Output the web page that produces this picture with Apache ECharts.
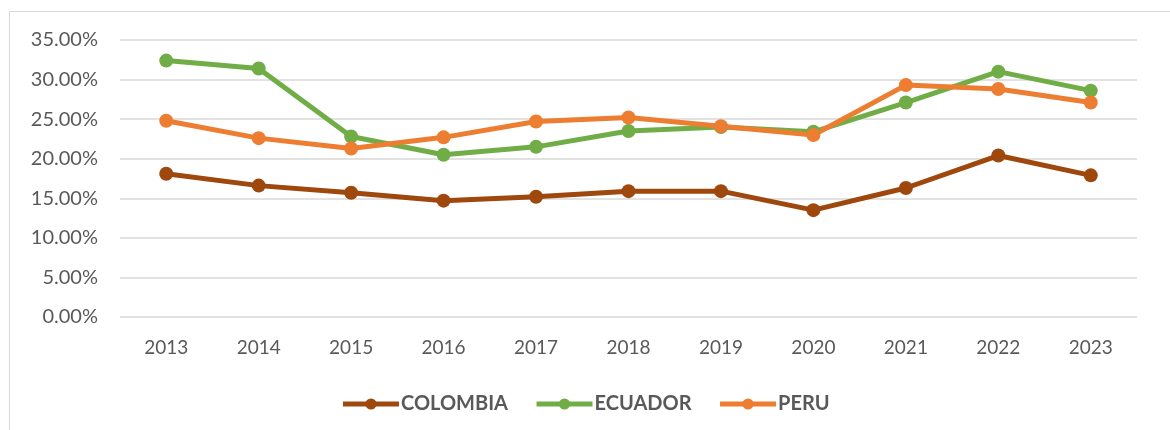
<!DOCTYPE html>
<html>
<head>
<meta charset="utf-8">
<script src="https://cdn.jsdelivr.net/npm/echarts@6/dist/echarts.min.js"></script>
<style>
html,body{margin:0;padding:0;background:#fff;}
#c{width:1170px;height:430px;}
</style>
</head>
<body>
<div id="c"></div>
<script>
var years = ['2013','2014','2015','2016','2017','2018','2019','2020','2021','2022','2023'];
var colombia = [18.1, 16.6, 15.7, 14.7, 15.2, 15.9, 15.9, 13.5, 16.3, 20.4, 17.9];
var ecuador  = [32.4, 31.4, 22.8, 20.5, 21.5, 23.5, 24.0, 23.4, 27.1, 31.0, 28.6];
var peru     = [24.8, 22.6, 21.3, 22.7, 24.7, 25.2, 24.1, 23.0, 29.3, 28.8, 27.1];
var names = ['COLOMBIA','ECUADOR','PERU'];
var colors = ['#9E480E','#70AD47','#ED7D31'];

var font = 'Lato, sans-serif';
var chart = echarts.init(document.getElementById('c'));
function mk(name, data, color){
  return {
    name: name, type: 'line', data: data,
    symbol: 'circle', symbolSize: 14,
    lineStyle: {width: 5, color: color},
    itemStyle: {color: color},
    z: 3
  };
}
chart.setOption({
  animation: false,
  backgroundColor: '#fff',
  graphic: [{
    type: 'rect', shape: {x: 9.5, y: 11.5, width: 1200, height: 500},
    style: {fill: 'none', stroke: '#d9d9d9', lineWidth: 1}, silent: true, z: -1
  }],
  grid: {left: 120, right: 33, top: 40, bottom: 113, containLabel: false},
  legend: {
    data: names, top: 389, left: 'center',
    itemWidth: 56, itemHeight: 14, itemGap: 26,
    lineStyle: {width: 5},
    textStyle: {color: '#595959', fontSize: 20, fontWeight: 'bold', fontFamily: font, padding: [0,0,0,-3]}
  },
  xAxis: {
    type: 'category', data: years, boundaryGap: true,
    axisLine: {show: false}, axisTick: {show: false},
    axisLabel: {color: '#595959', fontSize: 19, fontFamily: font, margin: 21}
  },
  yAxis: {
    type: 'value', min: 0, max: 35, interval: 5,
    axisLabel: {color: '#595959', fontSize: 20, fontFamily: font, margin: 22,
      formatter: function(v){ return v.toFixed(2) + '%'; }},
    splitLine: {lineStyle: {color: '#d9d9d9', width: 1.5}},
    axisLine: {show: false}, axisTick: {show: false}
  },
  series: [mk(names[0], colombia, colors[0]), mk(names[1], ecuador, colors[1]), mk(names[2], peru, colors[2])]
});
</script>
</body>
</html>
